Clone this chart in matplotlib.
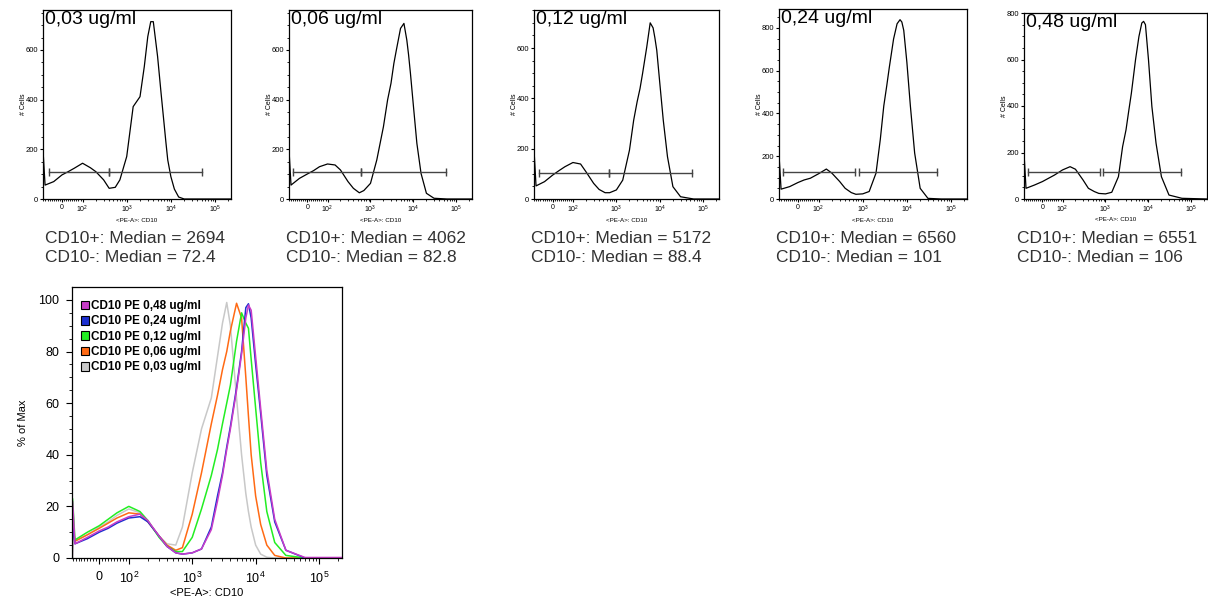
import numpy as np
import matplotlib
matplotlib.use('Agg')
import matplotlib.pyplot as plt
from matplotlib.patches import Patch
from matplotlib.ticker import FixedLocator, FixedFormatter, MultipleLocator

plt.rcParams['font.family'] = ['Liberation Sans', 'DejaVu Sans']
plt.rcParams['mathtext.fontset'] = 'custom'
plt.rcParams['mathtext.rm'] = 'Liberation Sans'

###############################################################################
# DATA
###############################################################################
# fluorescence intensity grid <PE-A>: CD10 (shared by all histograms)
x_pe = [-91, -90, -82, -40, 0, 30, 60, 100, 150, 200, 300, 400, 550, 700,
        1000, 1400, 2000, 2500, 3000, 3500, 4000, 5000, 6000, 7000, 7700,
        8500, 10000, 12000, 15000, 20000, 30000, 60000, 230000]

conc_labels = ['0,03 ug/ml', '0,06 ug/ml', '0,12 ug/ml', '0,24 ug/ml', '0,48 ug/ml']

# # Cells per panel
cells_003 = [0, 170, 56, 70, 97, 110, 124, 144, 126, 110, 77, 43, 47, 77,
             171, 372, 412, 533, 654, 714, 714, 574, 426, 305, 230,
             157, 90, 40, 8, 0, 0, 0, 0]
cells_006 = [0, 170, 56, 83, 101, 114, 130, 141, 137, 117, 70, 43, 25, 34,
             63, 157, 291, 399, 466, 546, 600, 687, 707, 640, 580,
             506, 372, 224, 103, 23, 3, 0, 0]
cells_012 = [0, 168, 52, 69, 95, 112, 128, 145, 139, 108, 62, 38, 25, 25,
             36, 75, 194, 313, 386, 439, 498, 604, 700, 680, 640,
             591, 459, 313, 168, 49, 9, 0, 0]
cells_024 = [0, 176, 46, 58, 77, 89, 97, 118, 140, 121, 82, 50, 30, 22,
             24, 35, 121, 278, 435, 529, 615, 748, 819, 838, 827,
             788, 639, 435, 215, 50, 3, 0, 0]
cells_048 = [0, 168, 46, 60, 75, 89, 103, 125, 139, 128, 82, 46, 32, 24,
             22, 29, 96, 225, 297, 383, 455, 599, 699, 757, 764,
             750, 600, 398, 240, 96, 17, 3, 0]
cells_all = [cells_003, cells_006, cells_012, cells_024, cells_048]
ymax_cells = [761, 761, 751, 888, 800]

# gates: CD10- (left, right), CD10+ (left, right), level
gates = [(-63, 394, 394, 50600, 110),
         (-71, 594, 594, 58000, 110),
         (-67, 668, 668, 54700, 104),
         (-72, 662, 822, 47600, 126),
         (-71, 738, 871, 56900, 118)]

pos_median = ['2694', '4062', '5172', '6560', '6551']
neg_median = ['72.4', '82.8', '88.4', '101', '106']

# overlay, % of Max
pct_003 = [0, 13, 6.5, 9, 12, 14, 16.5, 19, 17.5, 14, 8.5, 5.5, 5, 12,
           33, 50, 62, 78, 91, 99, 90, 62, 40, 25, 18,
           12, 5, 1.5, 0.3, 0, 0, 0, 0]
pct_006 = [0, 13, 6.5, 9, 11.5, 13.5, 15.5, 17.5, 17, 14, 8.5, 5, 3, 4,
           17, 33, 52, 63, 73, 80, 88, 98.7, 93, 70, 55,
           40, 24, 13, 5, 1, 0, 0, 0]
pct_012 = [0, 23, 7, 10, 12.5, 15, 17.5, 20, 18, 14.5, 8, 4.5, 2.5, 2.5,
           8, 19, 32, 42, 52, 60, 67, 84, 95, 91, 89,
           77, 58, 37, 18, 6, 1, 0, 0]
pct_024 = [0, 13, 5.5, 7.5, 10, 11.5, 13.5, 15.5, 16, 14, 8.5, 4.5, 2, 1.5,
           2, 3.5, 12, 24, 33, 43, 51, 66, 80, 97, 98.5,
           93, 75, 56, 32, 14, 3, 0, 0]
pct_048 = [0, 22, 5.5, 8, 10.5, 12, 14, 16, 17, 14.5, 8.5, 4.5, 2, 1.5,
           2, 3.5, 11, 22, 32, 42, 50, 65, 79, 93, 98,
           96, 78, 58, 34, 15, 3, 0.2, 0.2]

overlay_labels = ['CD10 PE 0,48 ug/ml', 'CD10 PE 0,24 ug/ml', 'CD10 PE 0,12 ug/ml',
                  'CD10 PE 0,06 ug/ml', 'CD10 PE 0,03 ug/ml']
overlay_pct = [pct_048, pct_024, pct_012, pct_006, pct_003]
overlay_colors = ['#c83cc8', '#1c2fd0', '#22ee22', '#ff6a14', '#c8c8c8']

###############################################################################
# helpers
###############################################################################
W, H = 1208, 602
fig = plt.figure(figsize=(W / 100, H / 100), dpi=100)


def px_axes(l, t, r, b):
    return fig.add_axes([l / W, 1 - b / H, (r - l) / W, (b - t) / H])


major_x = [0, 1e2, 1e3, 1e4, 1e5]
major_x_lbl = ['0', r'$\mathregular{10^{2}}$', r'$\mathregular{10^{3}}$',
               r'$\mathregular{10^{4}}$', r'$\mathregular{10^{5}}$']
minor_x = [v for v in range(-90, 100, 10) if v != 0]
for d in (2, 3, 4):
    minor_x += [k * 10 ** d for k in range(2, 10)]
minor_x += [2e5]


def biex_axis(ax, fs, maj_len, min_len, pad):
    # biexponential-like display: linear around 0, log above 10^2
    ax.set_xscale('symlog', linthresh=100, linscale=0.42)
    ax.set_xlim(-92, 230000)
    ax.xaxis.set_major_locator(FixedLocator(major_x))
    ax.xaxis.set_major_formatter(FixedFormatter(major_x_lbl))
    ax.xaxis.set_minor_locator(FixedLocator(minor_x))
    ax.tick_params(axis='both', which='major', direction='out', length=maj_len,
                   width=0.8, labelsize=fs, pad=pad)
    ax.tick_params(axis='both', which='minor', direction='out', length=min_len, width=0.6)
    ax.tick_params(top=False, right=False, which='both')
    for s in ax.spines.values():
        s.set_linewidth(0.9)


###############################################################################
# top row: single histograms with gates
###############################################################################
boxes = [(43, 10, 231, 199), (289, 10, 472, 199), (534, 10, 719, 199),
         (779, 9, 967, 199), (1024, 13, 1207, 199)]
text_x = [45, 286, 531, 776, 1017]

for i in range(5):
    ax = px_axes(*boxes[i])
    ax.plot(x_pe, cells_all[i], color='k', lw=0.9)
    biex_axis(ax, 5, 2.5, 1.5, 1.2)
    ax.set_ylim(0, ymax_cells[i])
    ax.yaxis.set_major_locator(MultipleLocator(200))
    ax.yaxis.set_minor_locator(MultipleLocator(50))
    ax.tick_params(axis='y', labelsize=5.5, pad=1)
    ax.set_ylabel('# Cells', fontsize=5)
    ax.yaxis.set_label_coords(-0.085, 0.5)
    ax.set_xlabel('<PE-A>: CD10', fontsize=4.5)
    ax.xaxis.set_label_coords(0.5, -0.112)
    ax.xaxis.label.set_va('center')
    lo_l, lo_r, hi_l, hi_r, lev = gates[i]
    ax.plot([lo_l, lo_r], [lev, lev], color='#444444', lw=1, marker='|', ms=6, mew=1)
    ax.plot([hi_l, hi_r], [lev, lev], color='#444444', lw=1, marker='|', ms=6, mew=1)
    ax.text(0.012, 0.995, conc_labels[i], transform=ax.transAxes, fontsize=14,
            va='top', ha='left')
    fig.text(text_x[i] / W, 1 - 243 / H, 'CD10+: Median = ' + pos_median[i],
             fontsize=12.5, color='#333333', va='baseline')
    fig.text(text_x[i] / W, 1 - 262 / H, 'CD10-: Median = ' + neg_median[i],
             fontsize=12.5, color='#333333', va='baseline')

###############################################################################
# bottom: overlay, % of Max
###############################################################################
ax5 = px_axes(72, 287, 342, 558)
for j in range(4, -1, -1):
    ax5.plot(x_pe, overlay_pct[j], color=overlay_colors[j], lw=1.1)
biex_axis(ax5, 9, 4, 2.5, 5)
ax5.set_ylim(0, 105)
ax5.yaxis.set_major_locator(FixedLocator([0, 20, 40, 60, 80, 100]))
ax5.yaxis.set_minor_locator(FixedLocator(list(range(5, 100, 5))))
ax5.set_ylabel('% of Max', fontsize=8)
ax5.yaxis.set_label_coords(-0.163, 0.5)
ax5.set_xlabel('<PE-A>: CD10', fontsize=8)
ax5.xaxis.set_label_coords(0.5, -0.128)
ax5.xaxis.label.set_va('center')

handles = [Patch(facecolor=c, edgecolor='k', lw=0.8) for c in overlay_colors]
ax5.legend(handles, overlay_labels, loc='upper left', frameon=False,
           prop={'weight': 'bold', 'size': 8.5}, handlelength=0.75, handleheight=0.75,
           handletextpad=0.15, labelspacing=0.28, borderaxespad=0.6,
           bbox_to_anchor=(-0.012, 0.995))

fig.savefig('out.png', dpi=100)
